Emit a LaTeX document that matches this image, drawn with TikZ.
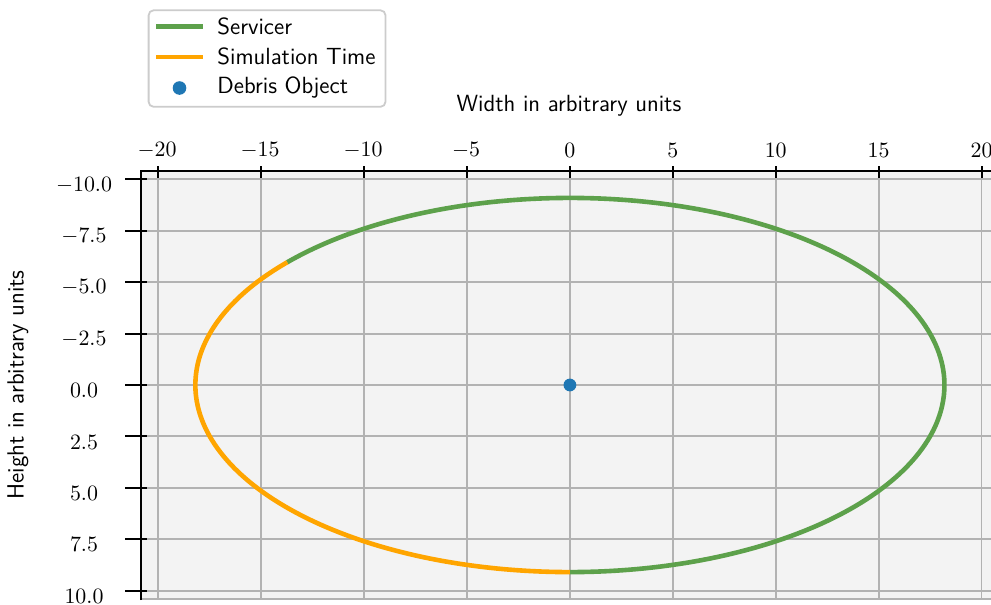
\documentclass[tikz,border=0pt]{standalone}
\usepackage{fontspec}
\usetikzlibrary{calc}
\definecolor{servgreen}{RGB}{93,161,75}
\definecolor{simorange}{RGB}{255,165,0}
\definecolor{debrisblue}{RGB}{31,119,180}
\definecolor{panelbg}{RGB}{243,243,243}
\definecolor{gridgray}{RGB}{178,178,178}
\definecolor{legendframe}{RGB}{204,204,204}
\tikzset{
  gridline/.style={gridgray, line width=0.95pt},
  spine/.style={black, line width=1pt},
  tickmark/.style={black, line width=1pt},
  orbit/.style={line width=2.3pt},
  ticklabel/.style={font=\fontsize{10.6}{12}\selectfont, inner sep=0pt},
  sanslabel/.style={font=\sffamily\fontsize{11.7}{13}\selectfont, inner sep=0pt},
}
\begin{document}
\begin{tikzpicture}[x=0.5pt, y=-0.5pt]
\useasboundingbox (0,0) rectangle (991,605);

% panel background
\fill[panelbg] (140.7,170.7) rectangle (991,599);

% data frame: origin at the debris object, y grows downwards
\begin{scope}[shift={(569.9,385)}, x=10.29pt, y={(0,-10.28pt)}]
  % grid
  \foreach \gx in {-20,-15,...,20}
    \draw[gridline] (\gx,-10.45) -- (\gx,10.42);
  \foreach \gy in {-10,-7.5,...,10}
    \draw[gridline] (-20.9,\gy) -- (20.5,\gy);
  \draw[gridline] (-20.9,10.42) -- (20.5,10.42);

  % orbit: simulated arc and remaining servicer path
  \draw[orbit, servgreen, line cap=butt] plot[domain=221:450, samples=180, smooth]
    ({18.2*cos(\x)},{9.1*sin(\x)});
  \draw[orbit, simorange, line cap=butt] plot[domain=90:221, samples=120, smooth]
    ({18.2*cos(\x)},{9.1*sin(\x)});

  % debris object
  \fill[debrisblue] (0,0) circle[radius=3.2pt];

  % ticks on the top axis
  \foreach \gx in {-20,-15,...,20} {
    \draw[tickmark] ($(\gx,-10.45)+(0,-4pt)$) -- ($(\gx,-10.45)+(0,2pt)$);
  }
  % ticks on the left axis
  \foreach \gy in {-10,-7.5,...,10} {
    \draw[tickmark] ($(-20.9,\gy)+(-7.3pt,0)$) -- ($(-20.9,\gy)+(3.7pt,0)$);
  }
\end{scope}

% spines
\draw[spine] (140.7,600) -- (140.7,170.7) -- (991,170.7);

% top tick labels
\node[ticklabel] (tx1) at (157,150) {$-20$};
\node[ticklabel] (tx2) at (260,150) {$-15$};
\node[ticklabel] (tx3) at (363,150) {$-10$};
\node[ticklabel] (tx4) at (466,150) {$-5$};
\node[ticklabel] (tx5) at (569.9,150) {$0$};
\node[ticklabel] (tx6) at (672.8,150) {$5$};
\node[ticklabel] (tx7) at (775.7,150) {$10$};
\node[ticklabel] (tx8) at (878.6,150) {$15$};
\node[ticklabel] (tx9) at (981.5,150) {$20$};

% left tick labels
\node[ticklabel] (ty1) at (84,185) {$-10.0$};
\node[ticklabel] (ty2) at (84,236.4) {$-7.5$};
\node[ticklabel] (ty3) at (84,287.8) {$-5.0$};
\node[ticklabel] (ty4) at (84,339.2) {$-2.5$};
\node[ticklabel] (ty5) at (84,390.6) {$0.0$};
\node[ticklabel] (ty6) at (84,442) {$2.5$};
\node[ticklabel] (ty7) at (84,493.4) {$5.0$};
\node[ticklabel] (ty8) at (84,544.8) {$7.5$};
\node[ticklabel] (ty9) at (84,596.2) {$10.0$};

% axis labels
\node[sanslabel] (xlab) at (569,106) {Width in arbitrary units};
\node[sanslabel, rotate=90] (ylab) at (18,385) {Height in arbitrary units};

% legend
\draw[legendframe, fill=white, line width=0.9pt, rounded corners=2.5pt]
  (148.6,10.3) rectangle (385.5,106.8);
\draw[servgreen, line width=2.3pt] (156,26.5) -- (203,26.5);
\draw[simorange, line width=2.3pt] (156,56.8) -- (203,56.8);
\fill[debrisblue] (179.5,88) circle[radius=3.4pt];
\node[sanslabel, anchor=west] (leg1) at (217,26.5) {Servicer};
\node[sanslabel, anchor=west] (leg2) at (217,56.8) {Simulation Time};
\node[sanslabel, anchor=west] (leg3) at (217,87.6) {Debris Object};
\end{tikzpicture}
\end{document}
